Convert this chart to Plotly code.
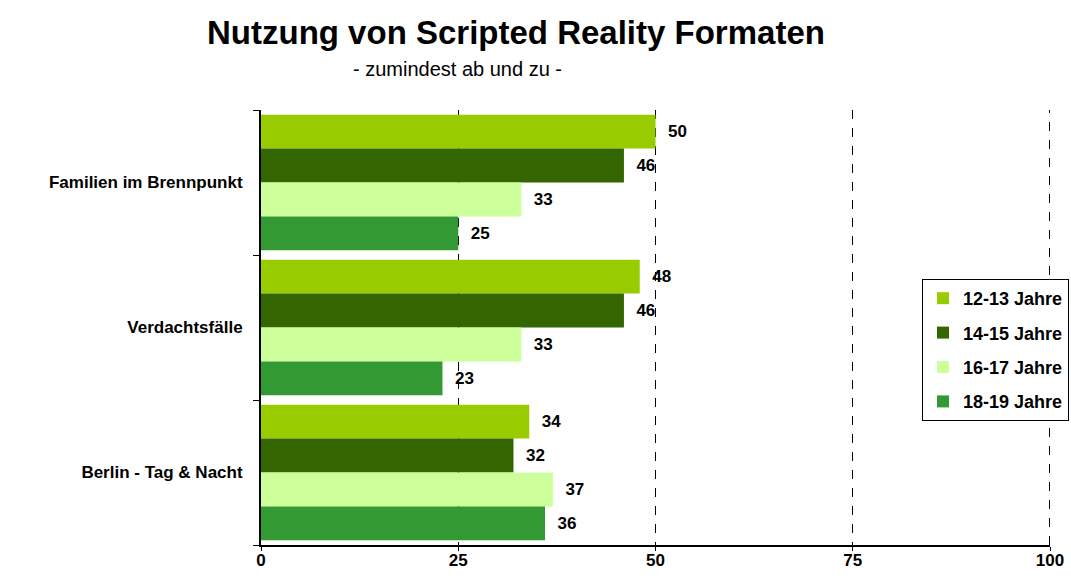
import plotly.graph_objects as go

categories = ["Familien im Brennpunkt", "Verdachtsfälle", "Berlin - Tag & Nacht"]
series_names = ["12-13 Jahre", "14-15 Jahre", "16-17 Jahre", "18-19 Jahre"]
v_12_13 = [50, 48, 34]
v_14_15 = [46, 46, 32]
v_16_17 = [33, 33, 37]
v_18_19 = [25, 23, 36]
colors = ["#99CC00", "#336600", "#CCFF99", "#339933"]
x_ticks = [0, 25, 50, 75, 100]
title_text = "Nutzung von Scripted Reality Formaten"
subtitle_text = "- zumindest ab und zu -"

FONT = "Arial, Liberation Sans, sans-serif"

fig = go.Figure()
for name, vals, col in zip(series_names, [v_12_13, v_14_15, v_16_17, v_18_19], colors):
    fig.add_trace(go.Bar(
        y=categories, x=vals, name=f"<b>{name}</b>", orientation="h",
        marker=dict(color=col, line=dict(width=0)),
        text=[f"  <b>{v}</b>" for v in vals], textposition="outside",
        textfont=dict(family=FONT, size=17, color="black"),
        cliponaxis=False, constraintext="none",
        legendgroup=name,
    ))

x_max = x_ticks[-1]
PLOT_W = 1071 - 261 - 21
half_px = 0.5 * x_max / PLOT_W  # align the edge gridline to a pixel

fig.update_layout(
    width=1071, height=578,
    margin=dict(l=261, r=21, t=110, b=33, autoexpand=False),
    paper_bgcolor="white", plot_bgcolor="white",
    font=dict(family=FONT, color="black"),
    barmode="group", bargap=0.065, bargroupgap=0,
    annotations=[
        dict(text=f"<b>{title_text}</b>", xref="paper", yref="paper",
             x=(516 - 261) / 789, y=1, yshift=110 - 32, xanchor="center", yanchor="middle",
             showarrow=False, font=dict(family=FONT, size=33, color="black")),
        dict(text=subtitle_text, xref="paper", yref="paper",
             x=(457 - 261) / 789, y=1, yshift=110 - 69, xanchor="center", yanchor="middle",
             showarrow=False, font=dict(family=FONT, size=20, color="black")),
    ],
    shapes=[
        dict(type="line", xref="x", yref="paper", x0=x_max - half_px, x1=x_max - half_px, y0=0, y1=1,
             line=dict(color="black", width=1, dash="dash"), layer="below"),
    ],
    xaxis=dict(
        range=[0, x_max], tickvals=x_ticks, ticktext=[f"<b>{t}</b>" for t in x_ticks],
        showgrid=True, gridcolor="black", griddash="dash", gridwidth=1,
        showline=True, linecolor="black", linewidth=2,
        ticks="outside", ticklen=4, tickcolor="black",
        tickfont=dict(family=FONT, size=17, color="black"),
        ticklabelstandoff=-5,
        zeroline=False, fixedrange=True,
    ),
    yaxis=dict(
        autorange="reversed", showgrid=False,
        showline=True, linecolor="black", linewidth=2,
        ticks="outside", ticklen=6, tickcolor="black", tickson="boundaries",
        tickfont=dict(family=FONT, size=17, color="black"),
        ticklabelstandoff=13,
        tickvals=categories, ticktext=[f"<b>{c}</b>" for c in categories],
    ),
    legend=dict(
        x=(922 - 261) / 789, xanchor="left", y=(545 - 279) / 435, yanchor="top",
        bordercolor="black", borderwidth=1, bgcolor="white",
        font=dict(family=FONT, size=18, color="black"),
        tracegroupgap=8, itemwidth=30,
    ),
    showlegend=True,
)
fig.write_html("out.html", config={"displayModeBar": False},
               post_script="document.body.style.margin='0';document.body.style.overflow='hidden';")
